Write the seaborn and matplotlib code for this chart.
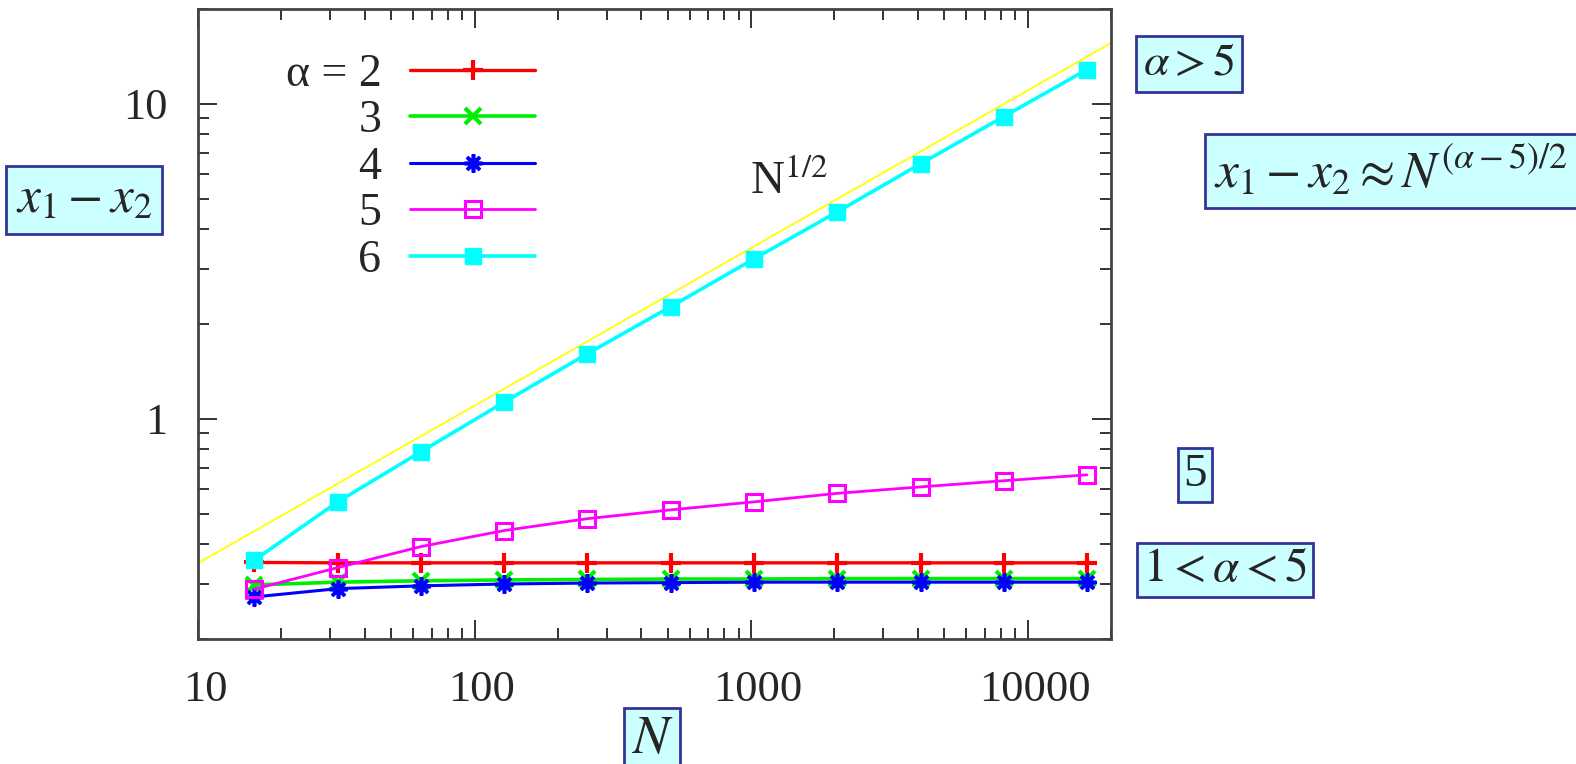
import numpy as np
import matplotlib
matplotlib.use('Agg')
import matplotlib.pyplot as plt
import matplotlib.transforms as mtransforms
import seaborn as sns
from matplotlib.ticker import LogLocator, NullFormatter

# ---------------- data ----------------
N = [16, 32, 64, 128, 256, 512, 1024, 2048, 4096, 8192, 16384]
y_a2 = [0.350, 0.349, 0.349, 0.349, 0.349, 0.349, 0.349, 0.349, 0.349, 0.349, 0.349]
y_a3 = [0.297, 0.303, 0.306, 0.308, 0.309, 0.310, 0.310, 0.311, 0.311, 0.311, 0.311]
y_a4 = [0.272, 0.289, 0.295, 0.299, 0.301, 0.302, 0.303, 0.303, 0.303, 0.303, 0.303]
y_a5 = [0.288, 0.337, 0.393, 0.442, 0.482, 0.514, 0.545, 0.580, 0.608, 0.636, 0.664]
y_a6 = [0.356, 0.545, 0.786, 1.13, 1.61, 2.27, 3.22, 4.54, 6.45, 9.11, 12.85]
ref_N = [10, 20000]
ref_y = [0.348, 15.6]
legend_labels = ['α = 2', '3', '4', '5', '6']
xticks = [10, 100, 1000, 10000]
xtick_labels = ['10', '100', '1000', '10000']
yticks = [1, 10]
ytick_labels = ['1', '10']

# ---------------- style ----------------
sns.set_style('ticks')
plt.rcParams['font.family'] = ['Liberation Serif', 'DejaVu Serif']
plt.rcParams['mathtext.fontset'] = 'stix'

W, H = 1576, 764
fig = plt.figure(figsize=(W / 100, H / 100), dpi=100)
ax = fig.add_axes([198 / W, 1 - 639 / H, (1111 - 198) / W, (639 - 9) / H])
ax.set_xscale('log')
ax.set_yscale('log')

sns.lineplot(x=ref_N, y=ref_y, ax=ax, color='#ffff00', linewidth=1.3)

series = [y_a2, y_a3, y_a4, y_a5, y_a6]
styles = [
    dict(color='#ff0000', marker='+', markersize=15, mew=3.0, linewidth=2.4),
    dict(color='#00ee00', marker='x', markersize=11, mew=3.0, linewidth=2.6),
    dict(color='#0000ff', marker=(8, 2, 0), markersize=13, mew=2.6, linewidth=2.2),
    dict(color='#ff00ff', marker='s', markersize=12, mew=2.2, linewidth=2.0, mfc='none'),
    dict(color='#00ffff', marker='s', markersize=11.5, mew=1.0, linewidth=2.6),
]
handles = []
for vals, st in zip(series, styles):
    st = dict(st)
    c = st['color']
    sns.lineplot(x=N, y=vals, ax=ax, mec=c, **st)
    handles.append(ax.lines[-1])

ax.set_xlim(10, 20000)
ax.set_ylim(0.2, 20)
ax.set_xticks(xticks, labels=xtick_labels)
ax.set_yticks(yticks, labels=ytick_labels)
ax.xaxis.set_minor_locator(LogLocator(base=10, subs=np.arange(2, 10) * 1.0, numticks=30))
ax.yaxis.set_minor_locator(LogLocator(base=10, subs=np.arange(2, 10) * 1.0, numticks=30))
ax.xaxis.set_minor_formatter(NullFormatter())
ax.yaxis.set_minor_formatter(NullFormatter())
ax.tick_params(which='both', direction='in', top=True, right=True,
               labelsize=32, color='#333333', width=1.4, pad=22)
ax.tick_params(which='major', length=14)
ax.tick_params(which='minor', length=8)
for s in ax.spines.values():
    s.set_linewidth(2)
    s.set_color('#444444')
ax.set_xlabel('')
ax.set_ylabel('')
shift = mtransforms.ScaledTranslation(7 / 100, 0, fig.dpi_scale_trans)
for lab in ax.get_xticklabels():
    lab.set_transform(lab.get_transform() + shift)

leg = ax.legend(handles, legend_labels, loc='upper left', bbox_to_anchor=(0.096, 0.93),
                frameon=False, markerfirst=False, fontsize=33, handlelength=2.74,
                handletextpad=0.62, labelspacing=0.09, borderaxespad=0, borderpad=0)

ax.text(1371, 5.19, r'N$^{\mathrm{1/2}}$', fontsize=34, ha='center', va='baseline')

def ftext(px, py, s, size, pad):
    box = dict(boxstyle='square,pad=%g' % pad, facecolor='#ccffff',
               edgecolor='#333399', linewidth=2)
    fig.text(px / W, 1 - py / H, s, fontsize=size, ha='center', va='center', bbox=box)

ftext(84, 200, r'$x_1 - x_2$', 37, 0.2)
ftext(1189, 64, r'$\alpha > 5$', 33, 0.15)
ftext(1391, 171, r'$x_1 - x_2 \approx N^{(\alpha - 5)/2}$', 37, 0.18)
ftext(1195, 475, '5', 34, 0.12)
ftext(1225, 570, r'$1 < \alpha < 5$', 34, 0.12)
ftext(652, 740, r'$N$', 39, 0.12)

fig.savefig('out.png', dpi=100)
